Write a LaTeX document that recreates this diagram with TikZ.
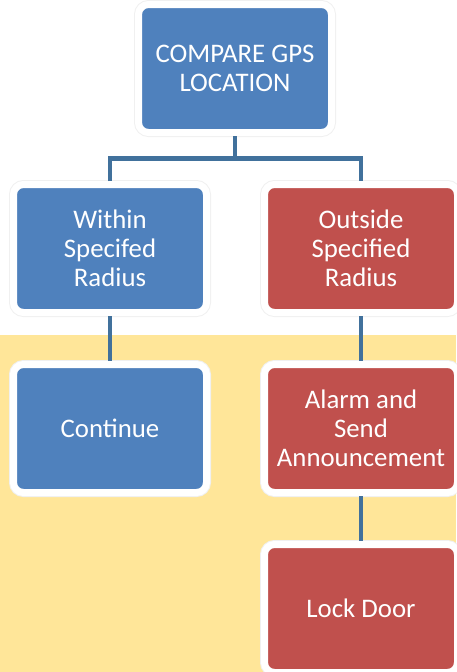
\documentclass[tikz,border=0pt]{standalone}
\usepackage{fontspec}
\setmainfont{Carlito}
\usepackage{tikz}
\usetikzlibrary{
  positioning,
  calc,
  backgrounds
}

\definecolor{accblue}{HTML}{4F81BD}
\definecolor{accred}{HTML}{C0504D}
\definecolor{linkblue}{HTML}{41719C}
\definecolor{bandyellow}{HTML}{FFE699}

\begin{document}
\begin{tikzpicture}[
    x=1pt, y=1pt,
    node distance=45pt and 51pt,
    box/.style={draw=white, line width=7pt, rounded corners=10pt,
                minimum width=193pt, minimum height=128pt, align=center,
                text=white, font=\fontsize{26.8}{29}\selectfont,
                preaction={draw=black!6, line width=9pt}},
    okbox/.style={box, fill=accblue},
    alertbox/.style={box, fill=accred},
    conn/.style={draw=linkblue, line width=4.5pt},
  ]
  \useasboundingbox (0,0) rectangle (456,-672);

  % ---- Background band ----
  \fill[bandyellow] (0,-335) rectangle (456,-672);

  % ---- Top ----
  \node[okbox] (cmp) at (235,-68.5) {COMPARE GPS\\LOCATION};

  % ---- Second row ----
  \node[okbox, below=of cmp, xshift=-125pt] (within) {Within\\Specifed\\Radius};
  \node[alertbox, right=of within] (outside) {Outside\\Specified\\Radius};

  % ---- Third row ----
  \node[okbox, below=of within] (cont) {Continue};
  \node[alertbox, below=of outside] (alarm) {Alarm and\\Send\\Announcement};

  % ---- Last ----
  \node[alertbox, below=of alarm] (lock) {Lock Door};

  % ---- Connectors ----
  \coordinate (split) at ($(cmp.south)!0.5!(within.north -| cmp.south)$);
  \draw[conn] (cmp.south) -- (split);
  \draw[conn] (within.north) |- (split) -| (outside.north);
  \draw[conn] (within.south) -- (cont.north);
  \draw[conn] (outside.south) -- (alarm.north);
  \draw[conn] (alarm.south) -- (lock.north);

\end{tikzpicture}
\end{document}
